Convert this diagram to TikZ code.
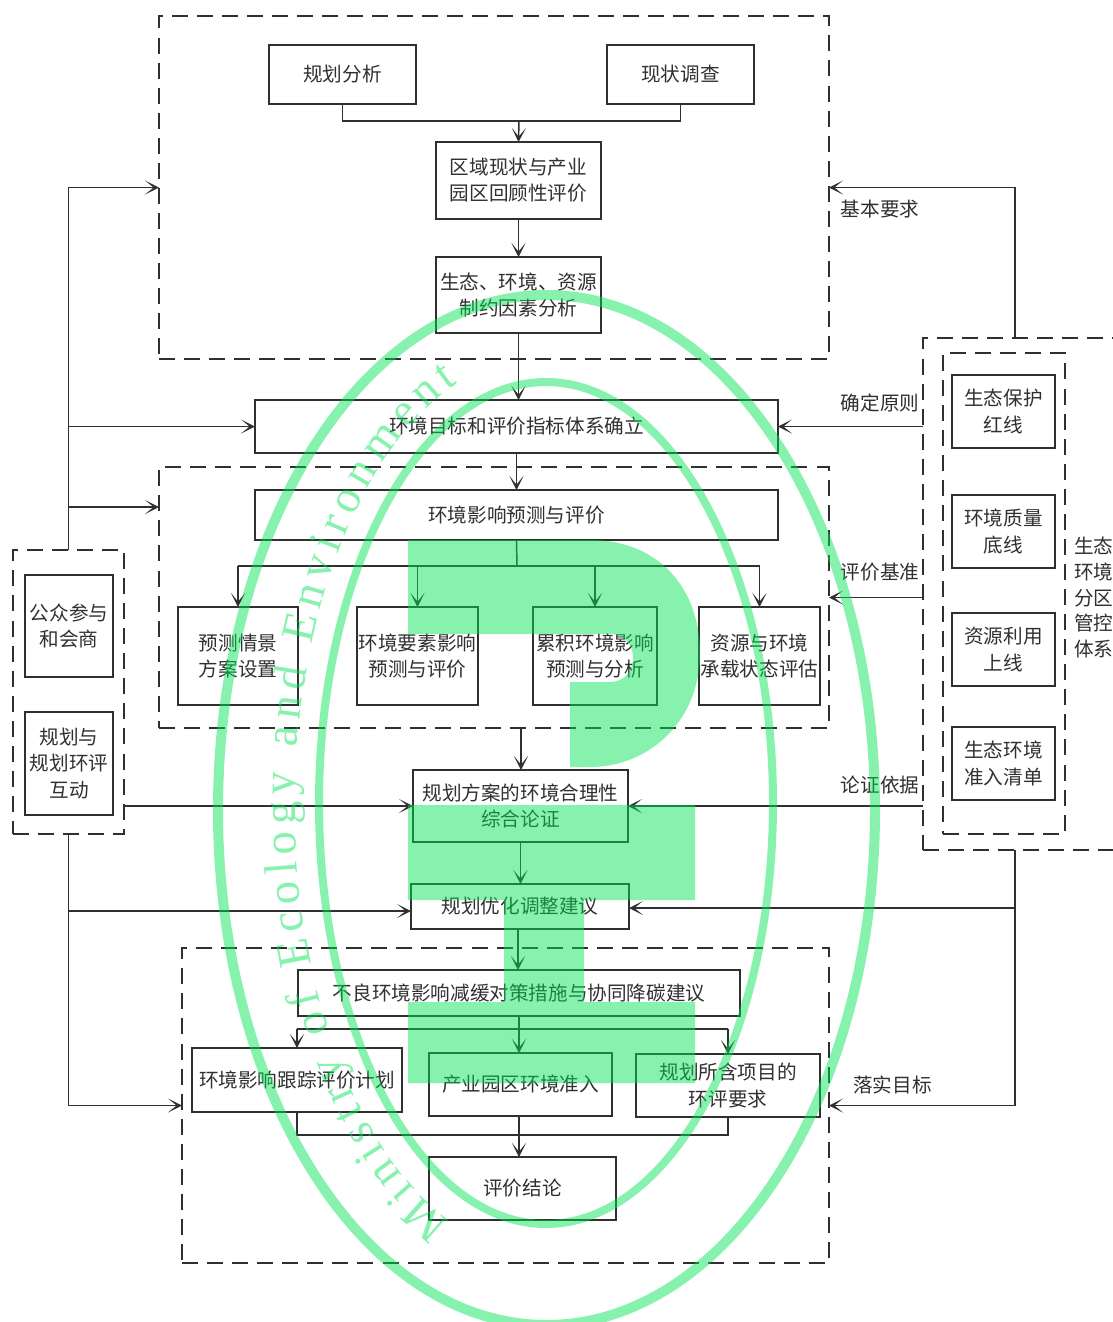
\documentclass[tikz,border=0pt]{standalone}
\usepackage{fontspec}
\setmainfont{Noto Sans CJK SC}
\newfontfamily\wmserif{Liberation Serif}
\usetikzlibrary{arrows.meta,decorations.text}
\definecolor{ink}{HTML}{303030}
\definecolor{wm}{RGB}{0,228,83}
\tikzset{
  boxstyle/.style={draw=ink,line width=1.15pt,inner sep=0pt,outer sep=0pt,align=center,text=ink,font=\fontsize{14.7}{19.6}\selectfont},
  framestyle/.style={draw=ink,line width=1.15pt,inner sep=0pt,outer sep=0pt,dash pattern=on 12pt off 6.8pt},
  labelstyle/.style={inner sep=0pt,outer sep=0pt,align=left,text=ink,font=\fontsize{14.7}{19.3}\selectfont},
  conn/.style={draw=ink,line width=1.1pt},
  arr/.style={conn,-{Stealth[length=10.5pt,width=10.5pt,inset=6.5pt]}}
}
\newcommand\bx[6]{\node[boxstyle,minimum width={(#4-#2)*0.75pt},minimum height={(#5-#3)*0.75pt}] (#1) at ({(#2+#4)/2},{(#3+#5)/2}) {#6};}
\newcommand\fr[5]{\node[framestyle,minimum width={(#4-#2)*0.75pt},minimum height={(#5-#3)*0.75pt}] (#1) at ({(#2+#4)/2},{(#3+#5)/2}) {};}
\begin{document}
\begin{tikzpicture}[x=0.75pt,y=-0.75pt]
\useasboundingbox (0,0) rectangle (1113,1322);
\fill[white] (0,0) rectangle (1113,1322);
\clip (0,0) rectangle (1113,1322);
% dashed frames
\fr{F1}{159}{16}{829}{359}
\fr{F2}{159}{467}{829}{728}
\fr{F3}{182}{948}{829}{1263}
\fr{lframe}{13}{550}{124}{834}
\fr{rframe}{923}{338}{1133}{850}
\fr{rinner}{943}{353}{1065}{834}
% boxes
\bx{a}{269}{45}{416}{104}{规划分析}
\bx{b}{607}{45}{754}{104}{现状调查}
\bx{c}{436}{142}{601}{219}{区域现状与产业\\园区回顾性评价}
\bx{d}{436}{257}{601}{333}{生态、环境、资源\\制约因素分析}
\bx{e}{255}{400}{778}{453}{环境目标和评价指标体系确立}
\bx{f}{255}{490}{778}{540}{环境影响预测与评价}
\bx{g}{178}{607}{298}{705}{预测情景\\方案设置}
\bx{h}{357}{607}{478}{705}{环境要素影响\\预测与评价}
\bx{i}{533}{607}{657}{705}{累积环境影响\\预测与分析}
\bx{j}{699}{607}{820}{705}{资源与环境\\承载状态评估}
\bx{k}{413}{770}{628}{842}{规划方案的环境合理性\\综合论证}
\bx{l}{411}{884}{629}{929}{规划优化调整建议}
\bx{m}{298}{970}{740}{1016}{不良环境影响减缓对策措施与协同降碳建议}
\bx{n}{192}{1048}{402}{1112}{环境影响跟踪评价计划}
\bx{o}{429}{1053}{612}{1116}{产业园区环境准入}
\bx{p}{636}{1054}{820}{1117}{规划所含项目的\\环评要求}
\bx{q}{429}{1157}{616}{1220}{评价结论}
\bx{r}{25}{575}{113}{677}{公众参与\\和会商}
\bx{s}{25}{712}{113}{815}{规划与\\规划环评\\互动}
\bx{t1}{952}{375}{1055}{448}{生态保护\\红线}
\bx{t2}{952}{495}{1055}{568}{环境质量\\底线}
\bx{t3}{952}{613}{1055}{686}{资源利用\\上线}
\bx{t4}{952}{727}{1055}{800}{生态环境\\准入清单}
% labels
\node[labelstyle,anchor=west] (side) at (1074,597.5) {生态\\环境\\分区\\管控\\体系};
\node[labelstyle] (l1) at (880,209) {基本要求};
\node[labelstyle] (l2) at (880,403) {确定原则};
\node[labelstyle] (l3) at (880,572) {评价基准};
\node[labelstyle] (l4) at (880,785) {论证依据};
\node[labelstyle] (l5) at (892.5,1085) {落实目标};
% junctions
\coordinate (jab) at (519,121);
\coordinate (jf) at (517,566);
\coordinate (jmo) at (519,1029);
\coordinate (jno) at (519,1135);
\coordinate (f2in) at (159,507);
\coordinate (lL) at (411,911);
\coordinate (lR) at (629,908);
\coordinate (rtop) at (1015,338);
\coordinate (rbot) at (1015,850);
\coordinate (f2out) at (521,728);
\coordinate (lout) at (518,930);
\coordinate (mo) at (519,1016);
\coordinate (oin) at (519,1053);
\coordinate (mid) at (518,970);
\coordinate (qin) at (519,1157);
\coordinate (oout) at (519,1116);
% connectors
\draw[conn] (a.south) |- (jab) -| (b.south);
\draw[arr] (jab) -- (c.north);
\draw[arr] (c.south) -- (d.north);
\draw[arr] (d.south) -- (d.south |- e.north);
\draw[arr] (e.south) -- (f.north);
\draw[conn] (f.south) -- (jf);
\draw[conn] (g.north |- jf) -- (j.north |- jf);
\draw[arr] (g.north |- jf) -- (g.north);
\draw[arr] (h.north |- jf) -- (h.north);
\draw[arr] (i.north |- jf) -- (i.north);
\draw[arr] (j.north |- jf) -- (j.north);
\draw[arr] (f2out) -- (f2out |- k.north);
\draw[arr] (k.south) -- (k.south |- l.north);
\draw[arr] (lout) -- (mid);
\draw[conn] (n.north |- jmo) -- (p.north |- jmo);
\draw[arr] (mo) -- (oin);
\draw[arr] (n.north |- jmo) -- (n.north);
\draw[arr] (p.north |- jmo) -- (p.north);
\draw[conn] (n.south) |- (jno) -| (p.south);
\draw[arr] (oout) -- (qin);
% left side
\draw[arr] (lframe.north) |- (F1.west);
\draw[arr] (lframe.north |- e.west) -- (e.west);
\draw[arr] (lframe.north |- f2in) -- (f2in);
\draw[arr] (lframe.east |- k.west) -- (k.west);
\draw[arr] (lframe.south) |- (F3.west);
\draw[arr] (lframe.south |- lL) -- (lL);
% right side
\draw[arr] (rtop) |- (F1.east);
\draw[arr] (rframe.west |- e.east) -- (e.east);
\draw[arr] (rframe.west |- F2.east) -- (F2.east);
\draw[arr] (rframe.west |- k.east) -- (k.east);
\draw[arr] (rbot) |- (F3.east);
\draw[arr] (rbot |- lR) -- (lR);
% watermark
\begin{scope}[transparency group,opacity=0.47]
\draw[wm,line width=7.5pt] (546.5,810) ellipse [x radius=328.5,y radius=515];
\draw[wm,line width=6pt] (546,803) ellipse [x radius=227,y radius=421];
\fill[wm] (408,540) -- (590,540) .. controls (660,540) and (700,590) .. (700,653)
  .. controls (700,720) and (650,767) .. (590,767) -- (570,767) -- (570,682) -- (610,682)
  .. controls (625,682) and (633,670) .. (633,658) .. controls (633,645) and (625,634) .. (610,634)
  -- (408,634) -- cycle;
\fill[wm] (408,805) -- (695,805) -- (695,900) -- (584,900) -- (584,1002) -- (695,1002)
  -- (695,1083) -- (408,1083) -- (408,1002) -- (504,1002) -- (504,900) -- (408,900) -- cycle;
\path[decorate,decoration={text along path,text align={fit to path},
  text={|\wmserif\fontsize{35}{35}\selectfont\color{wm}|Ministry of Ecology and Environment}}]
  (451,1222) arc[start angle=-247.6,end angle=-110.6,x radius=252,y radius=451];
\end{scope}
\end{tikzpicture}
\end{document}
